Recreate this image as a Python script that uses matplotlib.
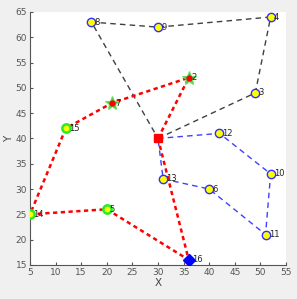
import matplotlib
matplotlib.use('Agg')
import matplotlib.pyplot as plt

# node coordinates (depot at 30, 40)
node_ids = [2, 3, 4, 5, 6, 7, 8, 9, 10, 11, 12, 13, 14, 15, 16]
node_x = [36, 49, 52, 20, 40, 21, 17, 30, 52, 51, 42, 31, 5, 12, 36]
node_y = [52, 49, 64, 26, 30, 47, 63, 62, 33, 21, 41, 32, 25, 42, 16]
depot = (30, 40)

route_black = [3, 4, 9, 8]
route_red = [2, 7, 15, 14, 5, 16]
route_blue = [12, 10, 11, 6, 13]

pos = {n: (x, y) for n, x, y in zip(node_ids, node_x, node_y)}

fig = plt.figure(figsize=(2.97, 2.99), dpi=100, facecolor='#f0f0f0')
ax = fig.add_axes([0.101, 0.114, 0.862, 0.846])
ax.set_facecolor('white')

def draw_route(route, color, lw, dashes):
    xs = [depot[0]] + [pos[n][0] for n in route] + [depot[0]]
    ys = [depot[1]] + [pos[n][1] for n in route] + [depot[1]]
    ax.plot(xs, ys, '--', color=color, lw=lw, dashes=dashes, zorder=1)

draw_route(route_black, '#404040', 1.0, (4, 3))
draw_route(route_red, 'red', 1.8, (1.7, 1.4))
draw_route(route_blue, '#4040ff', 1.0, (4, 3))

for n in node_ids:
    x, y = pos[n]
    if n in (2, 7):
        ax.plot(x, y, marker='*', ms=10, mfc='#33cc33', mec='#66dd66', mew=0.8, zorder=3)
        ax.plot(x, y, 'o', ms=3.5, color='red', zorder=4)
    elif n in (15, 14, 5):
        ax.plot(x, y, 'o', ms=6, mfc='yellow', mec='#22ee22', mew=1.8, zorder=3)
    elif n == 16:
        ax.plot(x, y, 'D', ms=6, mfc='blue', mec='blue', zorder=3)
    else:
        ax.plot(x, y, 'o', ms=6, mfc='yellow', mec='#3030ff', mew=1.0, zorder=3)
    ax.text(x + 0.6, y, str(n), fontsize=6, va='center', ha='left', color='#222222', zorder=5)

ax.plot(depot[0], depot[1], 's', ms=6, color='red', zorder=3)

ax.set_xlim(5, 55)
ax.set_ylim(15, 65)
ax.set_xticks(range(5, 56, 5))
ax.set_yticks(range(15, 66, 5))
ax.tick_params(direction='in', labelsize=6.5, colors='#555555', length=2, pad=2)
for s in ['top', 'right']:
    ax.spines[s].set_visible(False)
for s in ['left', 'bottom']:
    ax.spines[s].set_color('#555555')
ax.set_xlabel('X', fontsize=7.5, color='#444444', labelpad=1)
ax.set_ylabel('Y', fontsize=7.5, color='#444444', labelpad=1)

fig.savefig('out.png', dpi=100, facecolor=fig.get_facecolor())
